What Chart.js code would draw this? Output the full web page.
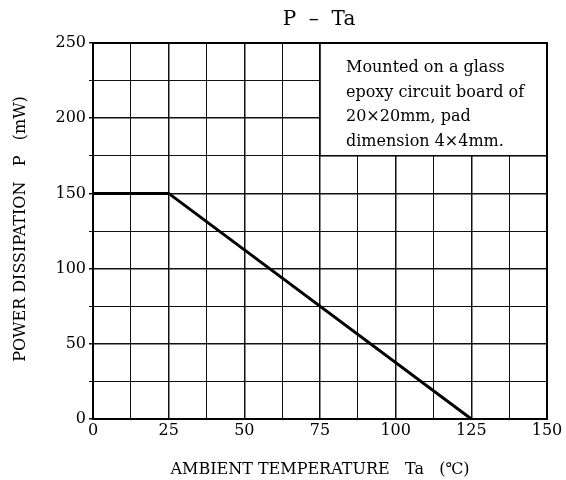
<!DOCTYPE html>
<html>
<head>
<meta charset="utf-8">
<script src="https://cdn.jsdelivr.net/npm/chart.js@4.4.1/dist/chart.umd.min.js"></script>
<style>
  html, body { margin: 0; padding: 0; background: #fff; }
  #wrap { width: 566px; height: 480px; }
</style>
</head>
<body>
<div id="wrap"><canvas id="c" width="566" height="480"></canvas></div>
<script>
// derating curve
const tempC = [0, 25, 125];
const powerMW = [150, 150, 0];
const xTickStep = 12.5;
const yTickStep = 25;
const titleText = 'P  \u2013  Ta';
const xTitle = 'AMBIENT TEMPERATURE   Ta   (\u2103)';
const yTitle = 'POWER DISSIPATION   P   (mW)';
const noteLines = ['Mounted on a glass', 'epoxy circuit board of', '20\u00d720mm, pad', 'dimension 4\u00d74mm.'];
const noteBox = { x0: 75, x1: 150, y0: 175, y1: 250 };

const FONT = '"DejaVu Serif", "Liberation Serif", serif';

const decor = {
  id: 'decor',
  afterDraw(chart) {
    const { ctx, scales: { x, y }, chartArea } = chart;
    ctx.save();
    // note box covers the grid in the upper right
    const bx = x.getPixelForValue(noteBox.x0);
    const by = y.getPixelForValue(noteBox.y1);
    const bw = x.getPixelForValue(noteBox.x1) - bx;
    const bh = y.getPixelForValue(noteBox.y0) - by;
    ctx.fillStyle = '#fff';
    ctx.fillRect(bx, by, bw, bh);
    ctx.strokeStyle = '#000';
    ctx.lineWidth = 1.5;
    ctx.strokeRect(bx, by, bw, bh);
    ctx.fillStyle = '#000';
    ctx.font = '16px ' + FONT;
    ctx.textBaseline = 'middle';
    ctx.textAlign = 'left';
    noteLines.forEach((t, i) => ctx.fillText(t, bx + 26, by + 25 + i * 24.5));

    // outer frame
    ctx.lineWidth = 2;
    ctx.strokeRect(chartArea.left, chartArea.top, chartArea.right - chartArea.left, chartArea.bottom - chartArea.top);

    // title and axis titles
    ctx.textAlign = 'center';
    ctx.font = '20px ' + FONT;
    ctx.fillText(titleText, 319, 20);
    ctx.font = '16px ' + FONT;
    ctx.fillText(xTitle, 320, 470);
    ctx.translate(21, 229);
    ctx.rotate(-Math.PI / 2);
    ctx.fillText(yTitle, 0, 0);
    ctx.restore();
  }
};

new Chart(document.getElementById('c'), {
  type: 'line',
  data: {
    datasets: [{
      data: tempC.map((t, i) => ({ x: t, y: powerMW[i] })),
      borderColor: '#000',
      borderWidth: 3,
      pointRadius: 0,
      tension: 0
    }]
  },
  options: {
    responsive: false,
    animation: false,
    layout: { padding: { left: 0, right: 19, top: 43, bottom: 0 } },
    plugins: { legend: { display: false }, tooltip: { enabled: false } },
    scales: {
      x: {
        type: 'linear', min: 0, max: 150,
        afterFit(s) { s.height = 61; },
        ticks: {
          stepSize: xTickStep, autoSkip: false, maxRotation: 0, padding: 2,
          color: '#000', font: { family: FONT, size: 16 },
          callback: v => (v % 25 === 0 ? v : '')
        },
        grid: {
          color: '#111',
          lineWidth: c => (c.tick && c.tick.value % 25 === 0 ? 1.5 : 1),
          tickLength: 0
        },
        border: { display: false }
      },
      y: {
        min: 0, max: 250,
        afterFit(s) { s.width = 93; },
        ticks: {
          stepSize: yTickStep, autoSkip: false, padding: 3,
          color: '#000', font: { family: FONT, size: 16 },
          callback: v => (v % 50 === 0 ? v : '')
        },
        grid: {
          color: '#111',
          lineWidth: c => (c.tick && c.tick.value % 50 === 0 ? 1.5 : 1),
          tickLength: 4
        },
        border: { display: false }
      }
    }
  },
  plugins: [decor]
});
</script>
</body>
</html>
